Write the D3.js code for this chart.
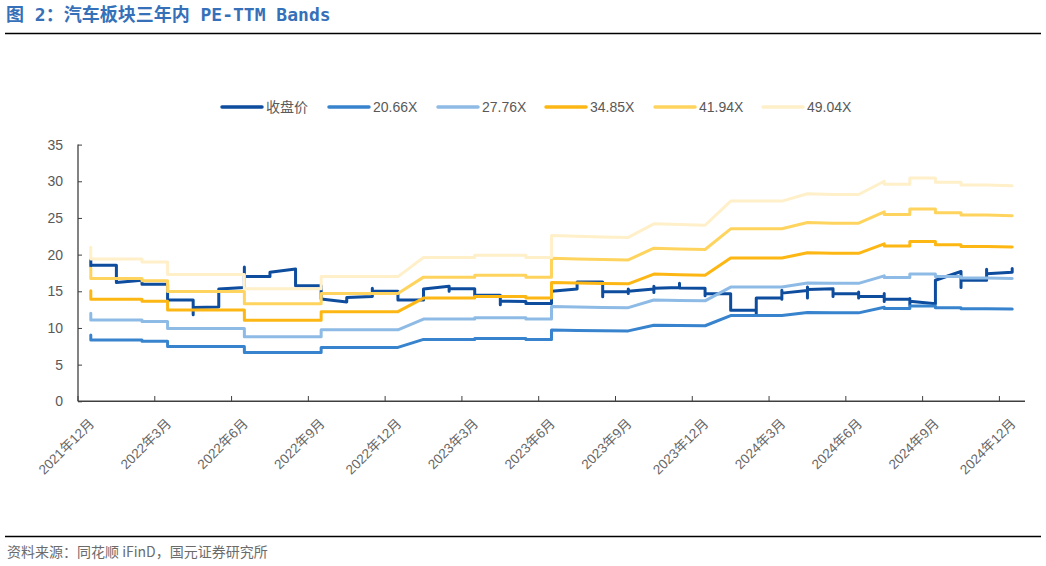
<!DOCTYPE html>
<html><head><meta charset="utf-8">
<script src="https://cdn.jsdelivr.net/npm/d3@7"></script>
<style>body{margin:0;background:#fff}</style>
</head><body>
<svg id="c" width="1046" height="566"></svg>
<script>
// Months (monthly buckets of a date axis)
const months = ["2021-12","2022-01","2022-02","2022-03","2022-04","2022-05","2022-06","2022-07","2022-08","2022-09","2022-10","2022-11","2022-12","2023-01","2023-02","2023-03","2023-04","2023-05","2023-06","2023-07","2023-08","2023-09","2023-10","2023-11","2023-12","2024-01","2024-02","2024-03","2024-04","2024-05","2024-06","2024-07","2024-08","2024-09","2024-10","2024-11","2024-12"];
const tickMonths = ["2021-12","2022-03","2022-06","2022-09","2022-12","2023-03","2023-06","2023-09","2023-12","2024-03","2024-06","2024-09","2024-12"];
const tickLabels = ["2021年12月","2022年3月","2022年6月","2022年9月","2022年12月","2023年3月","2023年6月","2023年9月","2023年12月","2024年3月","2024年6月","2024年9月","2024年12月"];
const yTicks = [0,5,10,15,20,25,30,35];
const seriesNames = ["收盘价","20.66X","27.76X","34.85X","41.94X","49.04X"];

// values within each month (first ... last), one list per month
const closePrice = [[19.3,18.4,18.55],[18.55,16.2],[16.5,15.95],[15.95,13.8],[13.8,11.8,12.8],[12.85,15.3],[15.5,18.3,17.0],[17.0,17.6],[18.05,15.75],[15.75,13.95],[13.55,14.15],[14.3,15.4,15.0],[15.0,13.8],[13.8,15.3],[15.7,15.0,15.35],[15.35,14.45],[14.45,13.15,13.65],[13.6,13.35],[13.35,15.0],[15.3,16.25],[16.25,14.25,14.95],[14.95,15.3,14.7,15.0],[15.3,15.7,14.85,15.4],[15.5,16.1,15.45],[15.4,14.4,14.65],[14.65,12.4],[12.4,11.8,14.1],[14.1,13.9,15.15,14.75],[15.1,15.6,14.1,15.25],[15.35,14.3,14.65],[14.65,14.9,14.1,14.3],[14.3,14.7,13.6,13.9],[13.9,14.0,13.15,13.65],[13.3,16.5],[17.7,15.5,16.5],[16.5,18.0,17.4],[17.6,18.1]];
const band2066 = [[9.03,8.36],[8.36],[8.36,8.19],[8.19,7.47],[7.47],[7.47],[7.47,6.65],[6.65],[6.65],[6.65,7.35],[7.35],[7.35],[7.35],[8.44],[8.44],[8.44,8.57],[8.57],[8.57,8.44],[8.44,9.71],[9.66],[9.62],[9.60],[10.38],[10.34],[10.30],[11.69],[11.69],[11.69],[12.11],[12.06],[12.06],[12.82,12.65],[12.65,13.01],[13.01,12.76],[12.76,12.61],[12.61],[12.57]];
const band2776 = [[12.00,11.10],[11.10],[11.10,10.87],[10.87,9.91],[9.91],[9.91],[9.91,8.80],[8.80],[8.80],[8.80,9.74],[9.74],[9.74],[9.74],[11.21],[11.21],[11.21,11.38],[11.38],[11.38,11.21],[11.21,12.91],[12.85],[12.79],[12.77],[13.81],[13.76],[13.70],[15.57],[15.57],[15.57],[16.13],[16.08],[16.08],[17.10,16.87],[16.87,17.35],[17.35,17.01],[17.01,16.81],[16.81],[16.76]];
const band3485 = [[15.06,13.93],[13.93],[13.93,13.64],[13.64,12.44],[12.44],[12.44],[12.44,11.05],[11.05],[11.05],[11.05,12.22],[12.22],[12.22],[12.22],[14.07],[14.07],[14.07,14.28],[14.28],[14.28,14.07],[14.07,16.20],[16.13],[16.06],[16.02],[17.34],[17.27],[17.20],[19.54],[19.54],[19.54],[20.25],[20.18],[20.18],[21.46,21.18],[21.18,21.78],[21.78,21.35],[21.35,21.10],[21.10],[21.03]];
const band4194 = [[18.13,16.76],[16.76],[16.76,16.42],[16.42,14.97],[14.97],[14.97],[14.97,13.30],[13.30],[13.30],[13.30,14.71],[14.71],[14.71],[14.71],[16.93],[16.93],[16.93,17.19],[17.19],[17.19,16.93],[16.93,19.50],[19.41],[19.33],[19.28],[20.87],[20.78],[20.70],[23.52],[23.52],[23.52],[24.37],[24.29],[24.29],[25.83,25.48],[25.48,26.21],[26.21,25.70],[25.70,25.40],[25.40],[25.31]];
const band4904 = [[21.0,19.4],[19.4],[19.4,19.0],[19.0,17.3],[17.3],[17.3],[17.3,15.35],[15.35],[15.35],[15.35,17.0],[17.0],[17.0],[17.0],[19.6],[19.6],[19.6,19.9],[19.9],[19.9,19.6],[19.6,22.6],[22.5],[22.4],[22.35],[24.2],[24.1],[24.0],[27.3],[27.3],[27.3],[28.3],[28.2],[28.2],[30.0,29.6],[29.6,30.45],[30.45,29.85],[29.85,29.5],[29.5],[29.4]];

const seriesData = [closePrice, band2066, band2776, band3485, band4194, band4904];
const colors = ["#0E4C9E","#3883CD","#8EBBE5","#FDB714","#FFD45E","#FFF0C9"];

const svg = d3.select("#c");
const font = "'Liberation Sans','Noto Sans CJK SC',Arial,sans-serif";

// title
svg.append("text").attr("x",6).attr("y",21)
  .style("font-family","'DejaVu Sans Mono','Noto Sans CJK SC',monospace")
  .style("font-size","18px").style("font-weight","bold").attr("fill","#3570B8")
  .text("图 2：汽车板块三年内 PE-TTM Bands");
svg.append("line").attr("x1",5).attr("x2",1041).attr("y1",33.5).attr("y2",33.5).attr("stroke","#000").attr("stroke-width",1.3);
svg.append("line").attr("x1",5).attr("x2",1041).attr("y1",536.5).attr("y2",536.5).attr("stroke","#000").attr("stroke-width",1.3);
svg.append("text").attr("x",7).attr("y",557)
  .style("font-family","'Noto Sans CJK SC',sans-serif").style("font-size","14px").attr("fill","#6b6b6b")
  .text("资料来源：同花顺 iFinD，国元证券研究所");

const x = d3.scaleBand().domain(months).range([78,1025]).paddingInner(0).paddingOuter(0);
const xc = m => x(m) + x.bandwidth()/2;
const y = d3.scaleLinear().domain([0,35]).range([401.3,144.6]);

// y axis
const gy = svg.append("g").attr("transform","translate(78,0)")
  .call(d3.axisRight(y).tickValues(yTicks).tickSize(4).tickFormat(d3.format("d")));
gy.select(".domain").remove();
gy.selectAll(".tick line").attr("stroke","#404040");
gy.selectAll(".tick text").attr("x",-15).attr("text-anchor","end")
  .style("font-family",font).style("font-size","14px").attr("fill","#595959");
svg.append("line").attr("x1",78).attr("x2",78).attr("y1",144.6).attr("y2",401.3).attr("stroke","#404040").attr("stroke-width",1.3);

// x axis ticks
const gx = svg.append("g");
gx.selectAll("line.t").data(tickMonths).join("line").attr("class","t")
  .attr("x1",d=>x(d)).attr("x2",d=>x(d)).attr("y1",401.3).attr("y2",396).attr("stroke","#404040").attr("stroke-width",1);
gx.append("line").attr("x1",78).attr("x2",1025).attr("y1",401.3).attr("y2",401.3).attr("stroke","#404040").attr("stroke-width",1.5);
gx.selectAll("text").data(tickMonths).join("text")
  .attr("transform",(d)=>`translate(${xc(d)+1},421) rotate(-45)`)
  .attr("text-anchor","end").attr("dy","0.35em")
  .style("font-family",font).style("font-size","13.5px").attr("fill","#666")
  .text((d,i)=>tickLabels[i]);

// lines
const line = d3.line().x(d=>d[0]).y(d=>y(d[1]));
seriesData.forEach((s,k)=>{
  const pts = [];
  s.forEach((vals,i)=>vals.forEach(v=>pts.push([xc(months[i]),v])));
  svg.append("path").attr("d",line(pts)).attr("fill","none")
    .attr("stroke",colors[k]).attr("stroke-width",3)
    .attr("stroke-linejoin","round").attr("stroke-linecap","round");
});

// legend
const legX = [222,329,438,546,655,763];
const lg = svg.append("g");
seriesNames.forEach((n,k)=>{
  lg.append("line").attr("x1",legX[k]).attr("x2",legX[k]+40).attr("y1",107).attr("y2",107)
    .attr("stroke",colors[k]).attr("stroke-width",3.5).attr("stroke-linecap","round");
  lg.append("text").attr("x",legX[k]+44).attr("y",107).attr("dy","0.35em")
    .style("font-family",font).style("font-size","14px").attr("fill","#595959").text(n);
});
</script>
</body></html>
